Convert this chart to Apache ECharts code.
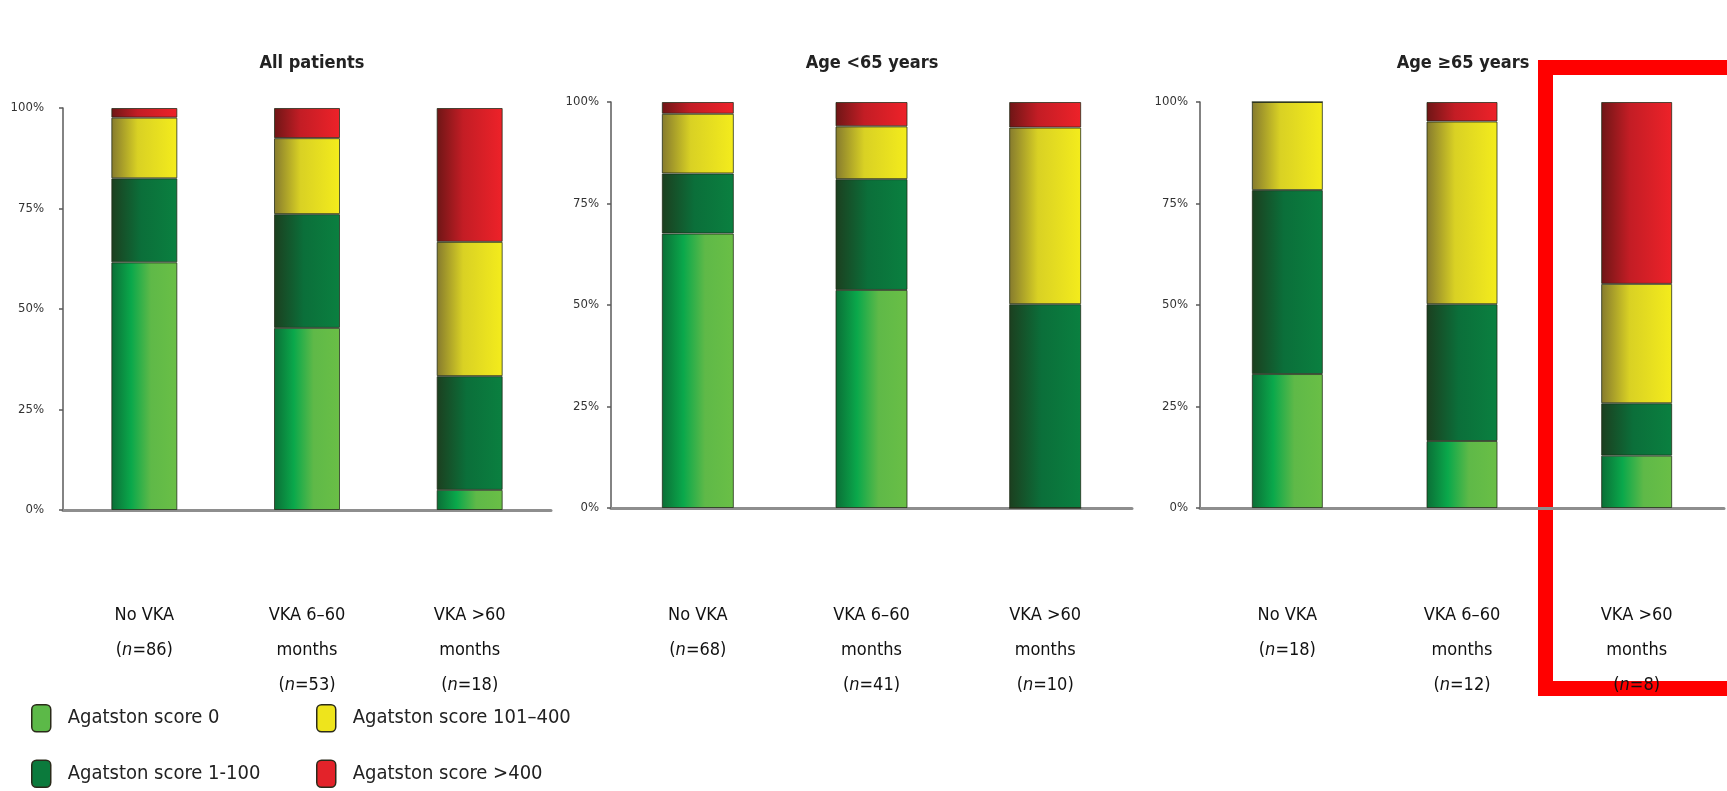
<!DOCTYPE html>
<html>
<head>
<meta charset="utf-8">
<script src="https://cdn.jsdelivr.net/npm/echarts@6/dist/echarts.min.js"></script>
<style>
  html, body { margin: 0; padding: 0; background: #fff; }
  #chart { width: 1727px; height: 791px; }
</style>
</head>
<body>
<div id="chart"></div>
<script>
// Panel titles and bar groups
const panelTitles = ['All patients', 'Age <65 years', 'Age \u226565 years'];
const groupLabels = ['No VKA', 'VKA 6\u201360\nmonths', 'VKA >60\nmonths'];
const allPatientsN = [86, 53, 18];
const under65N = [68, 41, 10];
const over65N = [18, 12, 8];

// Legend / score categories
const scoreNames = ['Agatston score 0', 'Agatston score 1-100', 'Agatston score 101\u2013400', 'Agatston score >400'];
const yTicks = [0, 25, 50, 75, 100];

// Percent of patients per Agatston score class
const allScore0 = [61.6, 45.3, 5.0];
const allScore1to100 = [20.9, 28.3, 28.3];
const allScore101to400 = [15.1, 18.9, 33.4];
const allScoreOver400 = [2.4, 7.5, 33.3];

const under65Score0 = [67.6, 53.7, 0];
const under65Score1to100 = [14.8, 27.3, 50.2];
const under65Score101to400 = [14.7, 13.0, 43.5];
const under65ScoreOver400 = [2.9, 6.0, 6.3];

const over65Score0 = [33.0, 16.5, 12.9];
const over65Score1to100 = [45.3, 33.7, 12.9];
const over65Score101to400 = [21.7, 45.0, 29.4];
const over65ScoreOver400 = [0, 4.8, 44.8];

const FONT = "'Liberation Sans Narrow', 'DejaVu Sans Condensed', 'Open Sans', sans-serif";

function grad(stops) {
  return {
    type: 'linear', x: 0, y: 0, x2: 1, y2: 0,
    colorStops: stops.map(([o, c]) => ({ offset: o, color: c }))
  };
}
const scoreColors = [
  grad([[0, '#0b6e36'], [0.3, '#0aa84b'], [0.6, '#5fb948'], [1, '#6abf46']]),
  grad([[0, '#1c3f1f'], [0.45, '#0b6f3a'], [1, '#0a8040']]),
  grad([[0, '#857a2e'], [0.4, '#d9d124'], [1, '#f4ec1c']]),
  grad([[0, '#6e1616'], [0.4, '#c31d25'], [1, '#ee2229']])
];
const legendColors = ['#5cb948', '#0b7a3c', '#eee41c', '#e3232a'];

const panels = [
  { n: allPatientsN, data: [allScore0, allScore1to100, allScore101to400, allScoreOver400],
    grid: { left: 63, top: 108, width: 488, height: 402 }, barWidth: 66, margin: 88, tickMargin: 19, titleX: 312 },
  { n: under65N, data: [under65Score0, under65Score1to100, under65Score101to400, under65ScoreOver400],
    grid: { left: 611, top: 102, width: 521, height: 406 }, barWidth: 72, margin: 90, tickMargin: 12, titleX: 872 },
  { n: over65N, data: [over65Score0, over65Score1to100, over65Score101to400, over65ScoreOver400],
    grid: { left: 1200, top: 102, width: 524, height: 406 }, barWidth: 71, margin: 90, tickMargin: 12, titleX: 1463 }
];

const grids = [], xAxes = [], yAxes = [], series = [], graphics = [];

panels.forEach((p, pi) => {
  grids.push(Object.assign({ containLabel: false }, p.grid));
  xAxes.push({
    type: 'category', gridIndex: pi, data: groupLabels,
    axisLine: { show: true, lineStyle: { color: '#8e8e8e', width: 3 } },
    axisTick: { show: false },
    axisLabel: {
      margin: p.margin, interval: 0,
      formatter: (value, idx) =>
        value.split('\n').map(l => '{t|' + l + '}').join('\n') +
        '\n{t|(}{i|n}{t|=' + p.n[idx] + ')}',
      rich: {
        t: { fontFamily: FONT, fontSize: 18, lineHeight: 35, color: '#111' },
        i: { fontFamily: FONT, fontSize: 18, lineHeight: 35, color: '#111', fontStyle: 'italic' }
      }
    }
  });
  yAxes.push({
    type: 'value', gridIndex: pi, min: yTicks[0], max: yTicks[yTicks.length - 1], interval: 25,
    axisLine: { show: true, lineStyle: { color: '#5a5a5a', width: 1.5 } },
    axisTick: { show: true, length: 4, lineStyle: { color: '#5a5a5a', width: 1.5 } },
    splitLine: { show: false },
    axisLabel: { formatter: '{value}%', margin: p.tickMargin, fontFamily: FONT, fontSize: 13, color: '#333' }
  });
  p.data.forEach((vals, si) => {
    series.push({
      name: scoreNames[si], type: 'bar', stack: 'p' + pi,
      xAxisIndex: pi, yAxisIndex: pi, barWidth: p.barWidth,
      data: vals,
      itemStyle: { color: scoreColors[si], borderColor: 'rgba(30,40,20,0.75)', borderWidth: 1 },
      emphasis: { disabled: true }
    });
  });
  graphics.push({
    type: 'text', x: p.titleX, y: 63,
    style: { text: panelTitles[pi], align: 'center', verticalAlign: 'middle',
             fontFamily: FONT, fontSize: 18, fontWeight: 'bold', fill: '#222' }
  });
});

// Highlight frame around the last group of the third panel
graphics.push({
  type: 'rect',
  shape: { x: 1545.5, y: 67.5, width: 320, height: 621 },
  style: { fill: 'none', stroke: '#ff0000', lineWidth: 15 }
});

const legendBase = {
  orient: 'vertical', itemWidth: 19, itemHeight: 27, itemGap: 27,
  padding: 0, height: 90,
  icon: 'roundRect',
  selectedMode: false,
  textStyle: { fontFamily: FONT, fontSize: 20, color: '#222', padding: [0, 0, 0, 12] },
  itemStyle: { borderColor: '#2a2a1a', borderWidth: 1.5 }
};
const legends = [
  Object.assign({}, legendBase, { left: 31, top: 704, data: [
    { name: scoreNames[0], itemStyle: { color: legendColors[0] } },
    { name: scoreNames[1], itemStyle: { color: legendColors[1] } }
  ] }),
  Object.assign({}, legendBase, { left: 316, top: 704, data: [
    { name: scoreNames[2], itemStyle: { color: legendColors[2] } },
    { name: scoreNames[3], itemStyle: { color: legendColors[3] } }
  ] })
];

const chart = echarts.init(document.getElementById('chart'), null, { renderer: 'canvas' });
chart.setOption({
  animation: false,
  backgroundColor: '#ffffff',
  grid: grids, xAxis: xAxes, yAxis: yAxes, series: series,
  legend: legends,
  graphic: graphics
});
</script>
</body>
</html>
